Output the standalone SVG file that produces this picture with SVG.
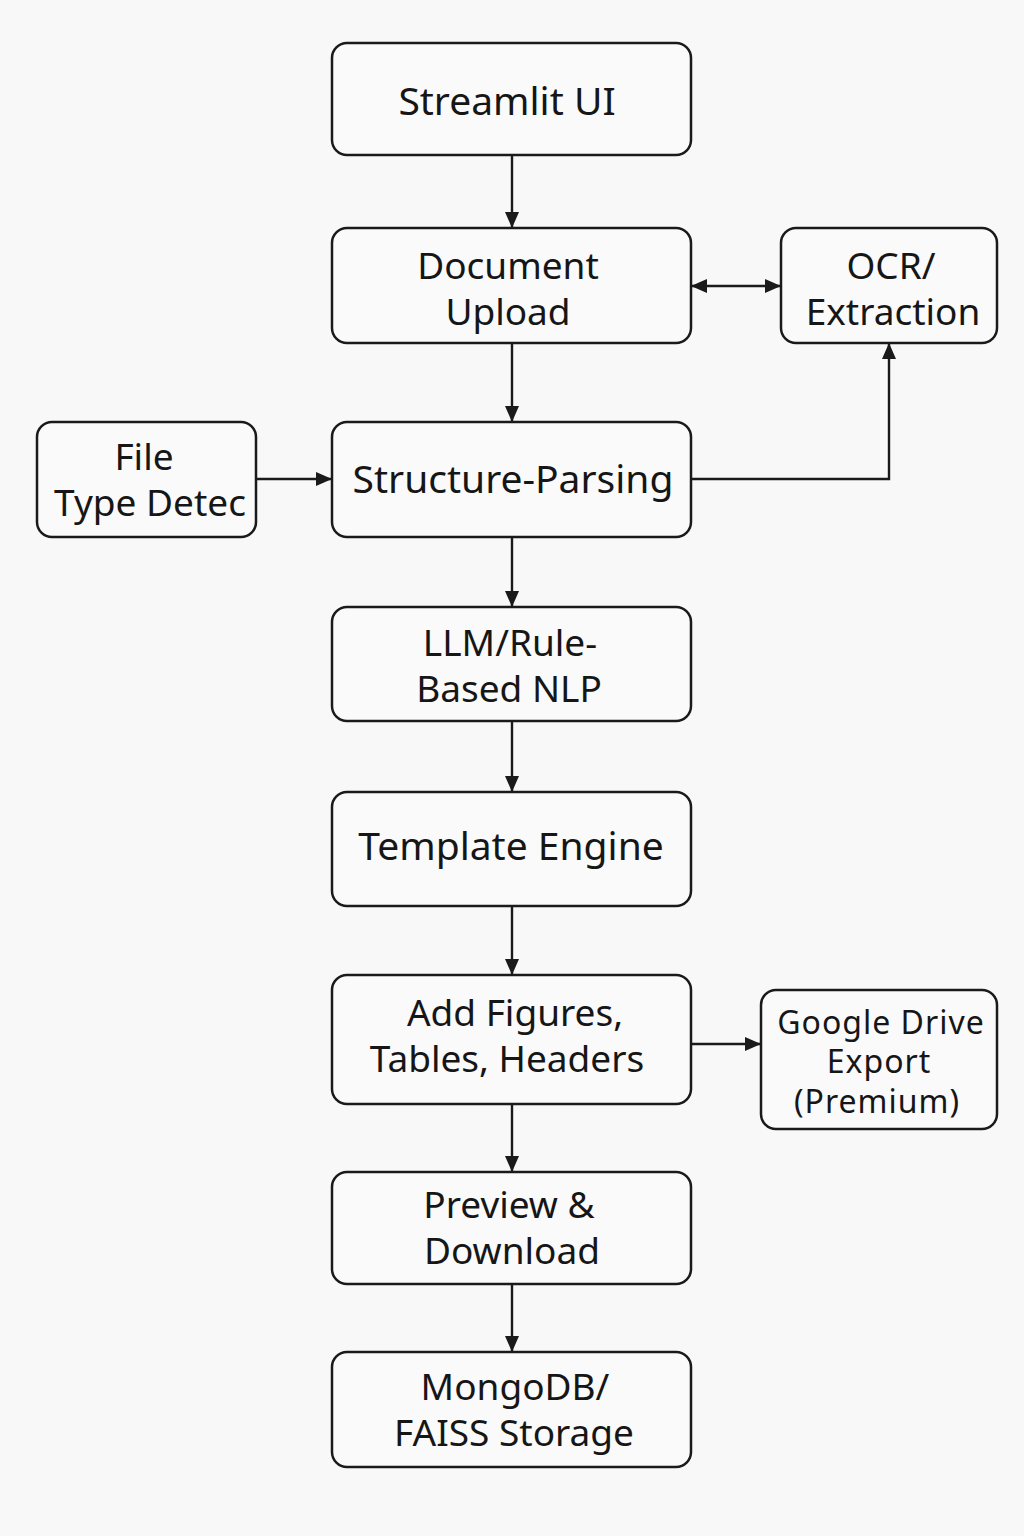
<svg xmlns="http://www.w3.org/2000/svg" width="1024" height="1536" viewBox="0 0 1024 1536">
<style>
.n{fill:#fafafa;stroke:#1a1a1a;stroke-width:2.5}
.t{font-family:"Noto Sans","Open Sans",sans-serif;font-size:37px;fill:#161616;text-anchor:middle}
.l{font-size:39px}
.s{font-size:32px;letter-spacing:1px}
.c{fill:none;stroke:#1a1a1a;stroke-width:2.4}
</style>
<defs>
<marker id="a" markerWidth="16" markerHeight="14" refX="15" refY="7" orient="auto-start-reverse" markerUnits="userSpaceOnUse">
<path d="M0,0 L16,7 L0,14 z" fill="#1a1a1a"/>
</marker>
</defs>
<rect width="1024" height="1536" fill="#f8f8f8"/>
<g id="connectors">
<line class="c" x1="512" y1="155" x2="512" y2="227" marker-end="url(#a)"/>
<line class="c" x1="692" y1="286" x2="780" y2="286" marker-start="url(#a)" marker-end="url(#a)"/>
<line class="c" x1="512" y1="343" x2="512" y2="421" marker-end="url(#a)"/>
<line class="c" x1="256" y1="479" x2="331" y2="479" marker-end="url(#a)"/>
<polyline class="c" points="691,479 889,479 889,344" marker-end="url(#a)"/>
<line class="c" x1="512" y1="537" x2="512" y2="606" marker-end="url(#a)"/>
<line class="c" x1="512" y1="721" x2="512" y2="791" marker-end="url(#a)"/>
<line class="c" x1="512" y1="906" x2="512" y2="974" marker-end="url(#a)"/>
<line class="c" x1="691" y1="1044" x2="760" y2="1044" marker-end="url(#a)"/>
<line class="c" x1="512" y1="1104" x2="512" y2="1171" marker-end="url(#a)"/>
<line class="c" x1="512" y1="1284" x2="512" y2="1351" marker-end="url(#a)"/>
</g>
<g id="streamlit"><rect class="n" x="332" y="43" width="359" height="112" rx="15"/><text class="t l" x="507" y="115">Streamlit UI</text></g>
<g id="upload"><rect class="n" x="332" y="228" width="359" height="115" rx="15"/><text class="t" x="508" y="279">Document</text><text class="t" x="508" y="325">Upload</text></g>
<g id="ocr"><rect class="n" x="781" y="228" width="216" height="115" rx="15"/><text class="t" x="891" y="279">OCR/</text><text class="t" x="893" y="325">Extraction</text></g>
<g id="filetype"><rect class="n" x="37" y="422" width="219" height="115" rx="15"/><text class="t" x="144" y="470">File</text><text class="t" x="150" y="516">Type Detec</text></g>
<g id="parsing"><rect class="n" x="332" y="422" width="359" height="115" rx="15"/><text class="t l" x="513" y="493">Structure-Parsing</text></g>
<g id="nlp"><rect class="n" x="332" y="607" width="359" height="114" rx="15"/><text class="t" x="510" y="656">LLM/Rule-</text><text class="t" x="509" y="702">Based NLP</text></g>
<g id="template"><rect class="n" x="332" y="792" width="359" height="114" rx="15"/><text class="t l" x="511" y="860">Template Engine</text></g>
<g id="figures"><rect class="n" x="332" y="975" width="359" height="129" rx="15"/><text class="t" x="515" y="1026">Add Figures,</text><text class="t" x="507" y="1072">Tables, Headers</text></g>
<g id="gdrive"><rect class="n" x="761" y="990" width="236" height="139" rx="15"/><text class="t s" x="881" y="1034">Google Drive</text><text class="t s" x="879" y="1073">Export</text><text class="t s" x="877" y="1113">(Premium)</text></g>
<g id="preview"><rect class="n" x="332" y="1172" width="359" height="112" rx="15"/><text class="t" x="509" y="1218">Preview &amp;</text><text class="t" x="512" y="1264">Download</text></g>
<g id="storage"><rect class="n" x="332" y="1352" width="359" height="115" rx="15"/><text class="t" x="515" y="1400">MongoDB/</text><text class="t" x="514" y="1446">FAISS Storage</text></g>
</svg>
